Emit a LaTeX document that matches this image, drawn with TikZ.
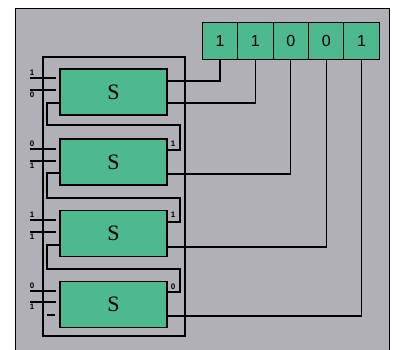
\documentclass[tikz,border=0pt]{standalone}
\usepackage{fontspec}
\setmainfont{Liberation Serif}
\setsansfont{Liberation Sans}
\usetikzlibrary{calc}
\definecolor{panelgray}{RGB}{176,176,182}
\definecolor{boxgreen}{RGB}{78,184,142}
\begin{document}
\begin{tikzpicture}[x=1pt,y=-1pt,
  wire/.style={draw=black,line width=1.1pt},
  sbox/.style={draw=black,line width=1.2pt,fill=boxgreen,minimum width=107pt,minimum height=46pt,inner sep=0pt,outer sep=0pt,font=\fontsize{22}{22}\selectfont},
  cell/.style={draw=black,line width=1pt,fill=boxgreen,minimum width=35.4pt,minimum height=37pt,inner sep=0pt,outer sep=0pt,font=\sffamily\fontsize{16}{16}\selectfont},
  bit/.style={font=\sffamily\bfseries\fontsize{8}{8}\selectfont,inner sep=0pt}]
\useasboundingbox (0,0) rectangle (395,349);
% panel
\fill[white] (0,0) rectangle (395,349);
\fill[panelgray] (15,8) rectangle (389,352);
\draw[line width=1pt] (15,352) -- (15,8) -- (389,8) -- (389,352);
% register
\node[cell] (r1) at (220.0,40.5) {1};
\node[cell] (r2) at (255.4,40.5) {1};
\node[cell] (r3) at (290.8,40.5) {0};
\node[cell] (r4) at (326.2,40.5) {0};
\node[cell] (r5) at (361.6,40.5) {1};
% outer frame
\draw[wire] (43,57) rectangle (185,336);
% S boxes
\node[sbox] (s1) at (113.5,92) {S};
\node[sbox] (s2) at (113.5,162) {S};
\node[sbox] (s3) at (113.5,233.5) {S};
\node[sbox] (s4) at (113.5,304.5) {S};
% outputs to register
\draw[wire] (s1.east |- 0,81) -| (r1.south);
\draw[wire] (s1.east |- 0,103) -| (r2.south);
\draw[wire] (s2.east |- 0,174) -| (r3.south);
\draw[wire] (s3.east |- 0,247) -| (r4.south);
\draw[wire] (s4.east |- 0,316) -| (r5.south);
% feedback loops
\draw[wire] (s1.west |- 0,103) -- (47,103) -- (47,125) -- (180,125) -- (180,150) -- (s2.east |- 0,150);
\draw[wire] (s2.west |- 0,173) -- (47,173) -- (47,198) -- (180,198) -- (180,222) -- (s3.east |- 0,222);
\draw[wire] (s3.west |- 0,245) -- (47,245) -- (47,269) -- (180,269) -- (180,292) -- (s4.east |- 0,292);
\coordinate (d4) at (47,315);
\draw[wire] (d4) -- ([xshift=-5pt]s4.west |- d4);
\node[bit] (l1) at (173,144) {1};
\node[bit] (l2) at (173,215) {1};
\node[bit] (l3) at (173,287) {0};
% inputs
\foreach \n/\ya/\yb/\ta/\tb in {1/78/90/1/0, 2/149/161/0/1, 3/220/232/1/1, 4/291/302/0/1}{
  \coordinate (ia\n) at (30,\ya);
  \coordinate (ib\n) at (30,\yb);
  \draw[wire] (ia\n) -- ([xshift=-4pt]s\n.west |- ia\n);
  \draw[wire] (ib\n) -- ([xshift=-4pt]s\n.west |- ib\n);
  \node[bit,anchor=south] (ta\n) at ([xshift=2pt,yshift=2pt]ia\n) {\ta};
  \node[bit,anchor=north] (tb\n) at ([xshift=2pt,yshift=-2pt]ib\n) {\tb};
}
\end{tikzpicture}
\end{document}
